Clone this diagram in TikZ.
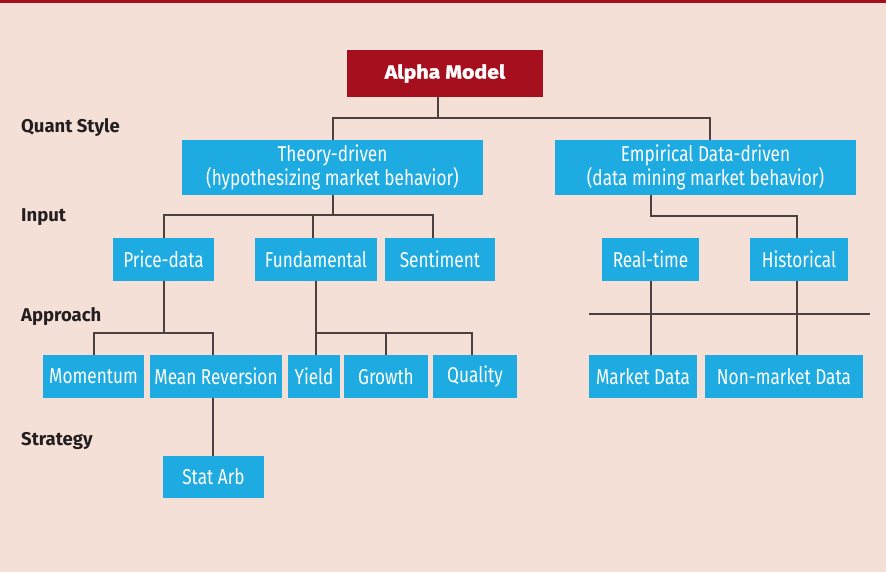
\documentclass[tikz,border=0pt]{standalone}
\usepackage{fontspec}
\setmainfont{Fira Sans}[FakeStretch=0.80]
\newfontfamily\labelfont{Fira Sans}[FakeStretch=1.0]
\newfontfamily\alphafont{Fira Sans}[FakeStretch=1.12,FakeBold=1.5]
\definecolor{bgc}{RGB}{245,224,216}
\definecolor{bluec}{RGB}{30,171,226}
\definecolor{redc}{RGB}{166,16,30}
\definecolor{linec}{RGB}{77,64,64}
\definecolor{textc}{RGB}{35,31,32}
\begin{document}
\begin{tikzpicture}[x=1pt,y=-1pt,
  bbox/.style={fill=bluec,draw=none,text=white,inner sep=0pt,align=center,
    font=\fontsize{21.5}{20}\selectfont},
  rbox/.style={fill=redc,draw=none,text=white,inner sep=0pt,
    font=\alphafont\fontsize{19}{19}\selectfont\bfseries},
  conn/.style={draw=linec,line width=1.3pt},
  lvl/.style={anchor=west,text=textc,inner sep=0pt,font=\labelfont\fontsize{18.5}{18.5}\selectfont\bfseries}]
\useasboundingbox (0,0) rectangle (886,572);
\fill[bgc] (0,0) rectangle (886,572);
\fill[redc] (0,0) rectangle (886,3);
% level labels
\node[lvl] (lq) at (21,128) {Quant Style};
\node[lvl] (li) at (21,217) {Input};
\node[lvl] (la) at (21,317) {Approach};
\node[lvl] (ls) at (21,441) {Strategy};
% nodes
\node[rbox,minimum width=196pt,minimum height=47pt] (alpha) at (445,73.5) {Alpha Model};
\node[bbox,minimum width=301pt,minimum height=55pt] (theory) at (332.5,167.5) {Theory-driven\\(hypothesizing market behavior)};
\node[bbox,minimum width=301pt,minimum height=55pt] (empirical) at (705.5,167.5) {Empirical Data-driven\\(data mining market behavior)};
\node[bbox,minimum width=101pt,minimum height=43pt] (price) at (163.5,259.5) {Price-data};
\node[bbox,minimum width=122pt,minimum height=43pt] (fundamental) at (316,259.5) {Fundamental};
\node[bbox,minimum width=110pt,minimum height=43pt] (sentiment) at (440,259.5) {Sentiment};
\node[bbox,minimum width=97pt,minimum height=43pt] (realtime) at (650.5,259.5) {Real-time};
\node[bbox,minimum width=98pt,minimum height=43pt] (historical) at (799,259.5) {Historical};
\node[bbox,minimum width=101pt,minimum height=43pt] (momentum) at (93.5,376.5) {Momentum};
\node[bbox,minimum width=132pt,minimum height=43pt] (meanrev) at (216,376.5) {Mean Reversion};
\node[bbox,minimum width=52pt,minimum height=43pt] (yield) at (314,376.5) {Yield};
\node[bbox,minimum width=84pt,minimum height=43pt] (growth) at (386,376.5) {Growth};
\node[bbox,minimum width=84pt,minimum height=43pt] (quality) at (475,376.5) {Quality};
\node[bbox,minimum width=108pt,minimum height=43pt] (market) at (643,376.5) {Market Data};
\node[bbox,minimum width=158pt,minimum height=43pt] (nonmarket) at (784,376.5) {Non-market Data};
\node[bbox,minimum width=101pt,minimum height=42pt] (statarb) at (213.5,477) {Stat Arb};
% bus coordinates
\coordinate (a1) at (438,118);
\coordinate (aL) at (333,118);
\coordinate (aR) at (710,118);
\coordinate (tC) at (333,215);
\coordinate (tL) at (164,215);
\coordinate (tM) at (313,215);
\coordinate (tR) at (433,215);
\coordinate (pC) at (164,333);
\coordinate (pL) at (94,333);
\coordinate (pR) at (213,333);
\coordinate (fL) at (316,333);
\coordinate (fM) at (386,333);
\coordinate (fR) at (472,333);
\coordinate (eL) at (651,216);
\coordinate (eR) at (797,216);
\coordinate (hL) at (589,314);
\coordinate (hR) at (870,314);
% connectors
\draw[conn] (alpha.south -| a1) -- (a1);
\draw[conn] (theory.north -| aL) -- (aL) -- (aR) -- (empirical.north -| aR);
\draw[conn] (theory.south -| tC) -- (tC);
\draw[conn] (price.north -| tL) -- (tL) -- (tR) -- (sentiment.north -| tR);
\draw[conn] (tM) -- (fundamental.north -| tM);
\draw[conn] (price.south -| pC) -- (pC);
\draw[conn] (momentum.north -| pL) -- (pL) -- (pR) -- (meanrev.north -| pR);
\draw[conn] (fundamental.south -| fL) -- (yield.north -| fL);
\draw[conn] (fL) -- (fR) -- (quality.north -| fR);
\draw[conn] (fM) -- (growth.north -| fM);
\draw[conn] (meanrev.south -| pR) -- (statarb.north -| pR);
\draw[conn] (empirical.south -| eL) -- (eL) -- (eR) -- (historical.north -| eR);
\draw[conn] (realtime.south -| eL) -- (market.north -| eL);
\draw[conn] (historical.south -| eR) -- (nonmarket.north -| eR);
\draw[conn] (hL) -- (hR);
\end{tikzpicture}
\end{document}
